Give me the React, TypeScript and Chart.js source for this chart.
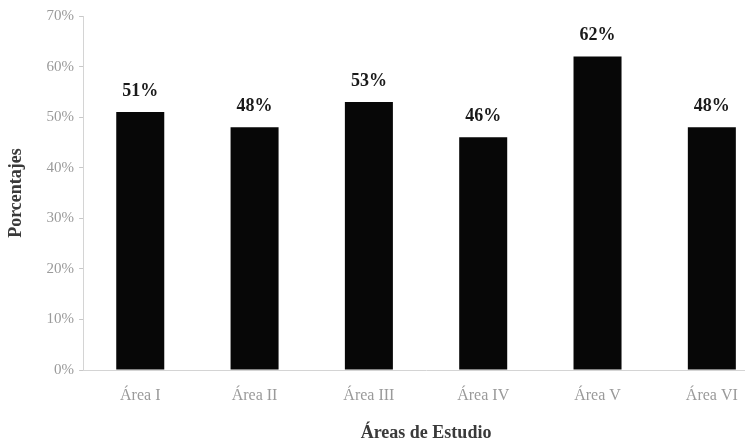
import React, { useEffect, useRef } from "react";
import { Chart, registerables } from "chart.js";

Chart.register(...registerables);

const categories = ["Área I", "Área II", "Área III", "Área IV", "Área V", "Área VI"];
const percentages = [51, 48, 53, 46, 62, 48];
const yTicks = [0, 10, 20, 30, 40, 50, 60, 70];

const serif = "'Liberation Serif', 'DejaVu Serif', serif";

// Draws the value above each bar
const valueLabels = {
  id: "valueLabels",
  afterDatasetsDraw(chart: any) {
    const { ctx } = chart;
    const meta = chart.getDatasetMeta(0);
    ctx.save();
    ctx.font = `bold 18px ${serif}`;
    ctx.fillStyle = "#1a1a1a";
    ctx.textAlign = "center";
    ctx.textBaseline = "bottom";
    meta.data.forEach((bar: any, i: number) => {
      ctx.fillText(`${percentages[i]}%`, bar.x, bar.y - 12);
    });
    ctx.restore();
  },
};

export default function App() {
  const canvasRef = useRef<HTMLCanvasElement>(null);

  useEffect(() => {
    const chart = new Chart(canvasRef.current!, {
      type: "bar",
      data: {
        labels: categories,
        datasets: [
          {
            data: percentages,
            backgroundColor: "#070707",
            borderWidth: 0,
            barPercentage: 0.42,
            categoryPercentage: 1,
          },
        ],
      },
      options: {
        animation: false,
        responsive: true,
        maintainAspectRatio: false,
        layout: { padding: { top: 16, right: 6, bottom: 0, left: 6 } },
        plugins: {
          legend: { display: false },
          tooltip: { enabled: false },
        },
        scales: {
          x: {
            afterFit(scale: any) {
              scale.height = 72;
            },
            grid: { display: false, drawTicks: false },
            border: { color: "#d4d4d4", width: 1 },
            ticks: {
              color: "#9a9a9a",
              font: { family: serif, size: 16, lineHeight: 1.2 },
              padding: 16,
            },
            title: {
              display: true,
              text: "Áreas de Estudio",
              color: "#3a3a3a",
              font: { family: serif, size: 18, weight: "bold", lineHeight: 1 },
              padding: { top: 18, bottom: 0 },
            },
          },
          y: {
            min: 0,
            max: 70,
            afterBuildTicks(scale: any) {
              scale.ticks = yTicks.map((v) => ({ value: v }));
            },
            grid: {
              display: true,
              drawOnChartArea: false,
              drawTicks: true,
              tickLength: 4,
              color: "#c8c8c8",
            },
            border: { color: "#d4d4d4", width: 1 },
            ticks: {
              color: "#9a9a9a",
              font: { family: serif, size: 15 },
              padding: 5,
              callback: (v: any) => `${v}%`,
            },
            title: {
              display: true,
              text: "Porcentajes",
              color: "#3a3a3a",
              font: { family: serif, size: 18, weight: "bold" },
              padding: { top: 0, bottom: 14 },
            },
          },
        },
      },
      plugins: [valueLabels],
    });
    return () => chart.destroy();
  }, []);

  return (
    <div
      style={{
        position: "absolute",
        left: 0,
        top: 0,
        width: 745,
        height: 442,
        overflow: "hidden",
        background: "#fff",
      }}
    >
      <div style={{ position: "relative", width: 775, height: 442 }}>
        <canvas ref={canvasRef} />
      </div>
    </div>
  );
}
